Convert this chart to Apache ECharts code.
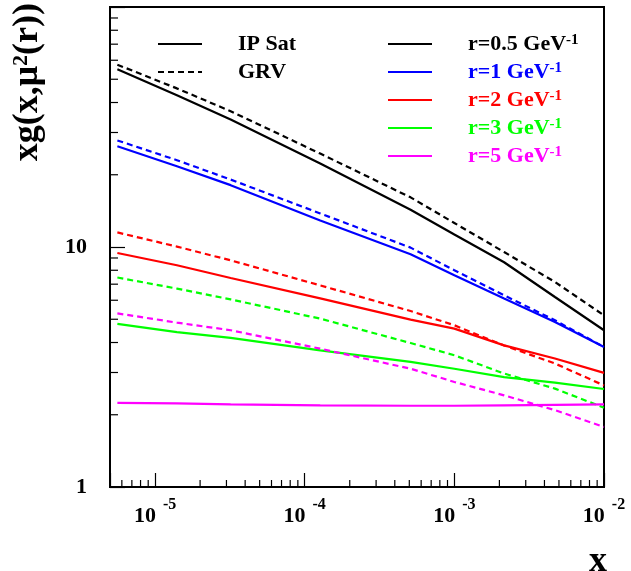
<!DOCTYPE html>
<html>
<head>
<meta charset="utf-8">
<script src="https://cdn.jsdelivr.net/npm/echarts@6/dist/echarts.min.js"></script>
<style>html,body{margin:0;padding:0;background:#fff;}#c{width:631px;height:571px;}</style>
</head>
<body>
<div id="c"></div>
<script>
// ---- data ----
const xVals = [5.6e-6, 1.4e-5, 3.2e-5, 1.27e-4, 5.1e-4, 1e-3, 2.15e-3, 4.7e-3, 1e-2];
const ipsatR05 = [55.0, 42.9, 34.0, 22.3, 14.3, 11.27, 8.64, 6.19, 4.50];
const ipsatR1  = [26.3, 21.7, 18.1, 12.9, 9.32, 7.62, 6.10, 4.87, 3.83];
const ipsatR2  = [9.44, 8.39, 7.43, 6.11, 4.98, 4.57, 3.89, 3.43, 2.99];
const ipsatR3  = [4.78, 4.42, 4.18, 3.71, 3.32, 3.11, 2.87, 2.72, 2.56];
const ipsatR5  = [2.24, 2.23, 2.21, 2.19, 2.18, 2.18, 2.19, 2.20, 2.21];
const grvR05 = [57.5, 45.8, 36.8, 24.5, 16.1, 12.59, 9.53, 7.15, 5.19];
const grvR1  = [27.8, 23.0, 19.1, 13.8, 9.94, 8.0, 6.29, 4.95, 3.83];
const grvR2  = [11.5, 10.04, 8.8, 6.92, 5.41, 4.72, 3.89, 3.27, 2.65];
const grvR3  = [7.46, 6.71, 6.05, 5.03, 3.98, 3.54, 2.97, 2.57, 2.14];
const grvR5  = [5.29, 4.84, 4.50, 3.77, 3.11, 2.74, 2.41, 2.09, 1.78];
const rLabels = ['r=0.5', 'r=1', 'r=2', 'r=3', 'r=5'];
const rColors = ['#000000', '#0000ff', '#ff0000', '#00ff00', '#ff00ff'];
const xMajorLabels = [1e-5, 1e-4, 1e-3, 1e-2];
const xMinorTicks = [6e-6,7e-6,8e-6,9e-6, 2e-5,3e-5,4e-5,5e-5,6e-5,7e-5,8e-5,9e-5,
  2e-4,3e-4,4e-4,5e-4,6e-4,7e-4,8e-4,9e-4, 2e-3,3e-3,4e-3,5e-3,6e-3,7e-3,8e-3,9e-3];
const yMinorTicks = [2,3,4,5,6,7,8,9,20,30,40,50,60,70,80,90];

const FONT = '"Liberation Serif", "DejaVu Serif", serif';
const LW = 2.2;
const ipsat = [ipsatR05, ipsatR1, ipsatR2, ipsatR3, ipsatR5];
const grv = [grvR05, grvR1, grvR2, grvR3, grvR5];
const pairs = arr => xVals.map((x, i) => [x, arr[i]]);

const series = [];
// legend-only series (style keys)
series.push({name: 'IP Sat', type: 'line', data: [], symbol: 'none', lineStyle: {color: '#000', width: LW}, itemStyle: {color: '#000'}});
series.push({name: 'GRV', type: 'line', data: [], symbol: 'none', lineStyle: {color: '#000', width: LW, type: [6, 4]}, itemStyle: {color: '#000'}});
for (let i = 0; i < 5; i++) {
  series.push({name: rLabels[i], type: 'line', data: pairs(ipsat[i]), symbol: 'none',
    lineStyle: {color: rColors[i], width: LW}, itemStyle: {color: rColors[i]}});
  series.push({name: 'GRV ' + rLabels[i], type: 'line', data: pairs(grv[i]), symbol: 'none',
    lineStyle: {color: rColors[i], width: LW, type: [6, 4]}, itemStyle: {color: rColors[i]}});
}
// minor ticks drawn through the axis scales
series.push({type: 'custom', silent: true, z: 10, data: xMinorTicks.map(v => [v, 1]),
  renderItem: (params, api) => {
    const p = api.coord([api.value(0), 1]);
    return {type: 'line', shape: {x1: p[0], y1: p[1], x2: p[0], y2: p[1] - 7}, style: {stroke: '#000', lineWidth: 1.2}};
  }});
series.push({type: 'custom', silent: true, z: 10, data: yMinorTicks.map(v => [5e-6, v]),
  renderItem: (params, api) => {
    const p = api.coord([5e-6, api.value(1)]);
    return {type: 'line', shape: {x1: p[0], y1: p[1], x2: p[0] + 8, y2: p[1]}, style: {stroke: '#000', lineWidth: 1.2}};
  }});

const legendText = {fontFamily: FONT, fontWeight: 'bold', fontSize: 22, lineHeight: 22, padding: [0, 0, 0, 31],
  rich: {s: {fontFamily: FONT, fontWeight: 'bold', fontSize: 15, verticalAlign: 'top', padding: [0, 0, 8, 0]}}};

const option = {
  animation: false,
  backgroundColor: '#fff',
  grid: {left: 110, right: 27, top: 7, bottom: 84, show: true, borderColor: '#000', borderWidth: 2, backgroundColor: 'transparent'},
  xAxis: {type: 'log', logBase: 10, min: 5e-6, max: 1e-2,
    axisLine: {lineStyle: {color: '#000', width: 2}},
    axisTick: {inside: true, length: 14, lineStyle: {color: '#000', width: 1.2}},
    splitLine: {show: false},
    axisLabel: {margin: 10, color: '#000',
      formatter: v => {
        const e = Math.round(Math.log10(v));
        if (!xMajorLabels.some(m => Math.abs(m - v) / m < 1e-6)) return '';
        return '{b|10}{s|' + e + '}';
      },
      rich: {
        b: {fontFamily: FONT, fontWeight: 'bold', fontSize: 22, color: '#000', verticalAlign: 'bottom'},
        s: {fontFamily: FONT, fontWeight: 'bold', fontSize: 16, color: '#000', verticalAlign: 'top', padding: [0, 0, 14, 7]}
      }}
  },
  yAxis: {type: 'log', logBase: 10, min: 1, max: 100,
    axisLine: {lineStyle: {color: '#000', width: 2}},
    axisTick: {inside: true, length: 15, lineStyle: {color: '#000', width: 1.2}},
    splitLine: {show: false},
    axisLabel: {margin: 23, color: '#000', fontFamily: FONT, fontWeight: 'bold', fontSize: 22,
      formatter: v => (Math.abs(v - 1) < 1e-9 ? '1' : (Math.abs(v - 10) < 1e-6 ? '10' : ''))}
  },
  legend: [
    {left: 157, top: 33, orient: 'vertical', padding: 0, itemGap: 6, itemWidth: 44, itemHeight: 1,
      selectedMode: false, data: ['IP Sat', 'GRV'], textStyle: Object.assign({color: '#000'}, legendText)},
    {left: 387, top: 33, orient: 'vertical', padding: 0, itemGap: 6, itemWidth: 44, itemHeight: 1,
      selectedMode: false,
      formatter: n => n + ' GeV{s|-1}',
      data: rLabels.map((n, i) => ({name: n, textStyle: {color: rColors[i]}})),
      textStyle: legendText}
  ],
  graphic: [
    {type: 'text', x: 28, y: 3, rotation: Math.PI / 2,
      style: {text: '{t|xg(x,μ}{s|2}{t|(r))}', align: 'right', verticalAlign: 'middle', fill: '#000',
        rich: {t: {fontFamily: FONT, fontWeight: 'bold', fontSize: 36, fill: '#000'},
               s: {fontFamily: FONT, fontWeight: 'bold', fontSize: 22, fill: '#000', verticalAlign: 'top', padding: [0, 0, 14, 0]}}}},
    {type: 'text', x: 598, y: 562,
      style: {text: 'x', align: 'center', verticalAlign: 'middle', fill: '#000', fontFamily: FONT, fontWeight: 'bold', fontSize: 36}}
  ],
  series: series
};
const chart = echarts.init(document.getElementById('c'), null, {renderer: 'canvas'});
chart.setOption(option);
</script>
</body>
</html>
